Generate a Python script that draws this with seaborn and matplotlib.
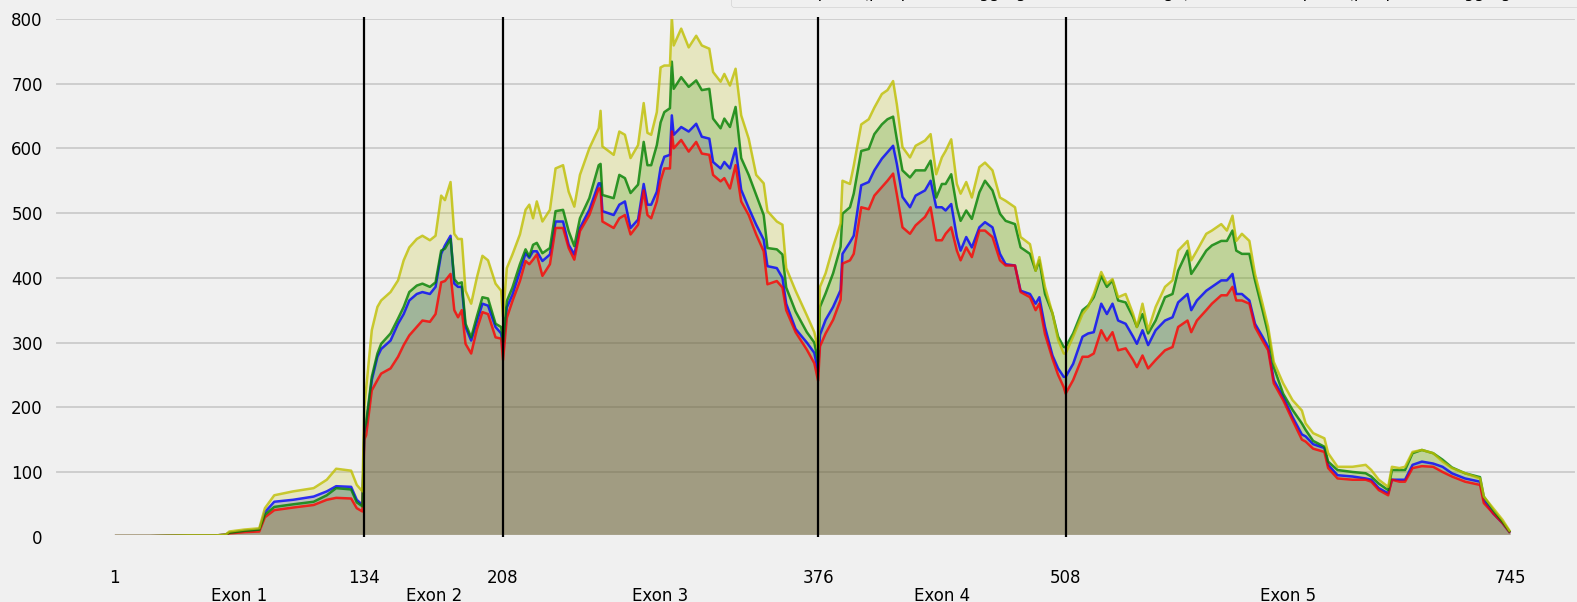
import matplotlib
matplotlib.use('Agg')
import matplotlib.pyplot as plt
import seaborn as sns
import pandas as pd

# positions along the transcript
position = [
  1, 20, 40, 55, 60, 62, 70, 78, 81, 86, 96, 107, 114, 119, 127, 130, 133,
  134, 135, 138, 141, 143, 148, 152, 155, 158, 162, 165, 169, 172, 175, 177, 180,
  182, 184, 186, 188, 191, 194, 197, 200, 204, 207,
  208, 210, 213, 217, 220, 222, 224, 226, 229, 233, 236, 240, 243, 246, 249, 254,
  259, 260, 261, 267, 270, 273, 276, 280, 283, 285, 287, 290, 292, 294, 297, 298,
  299, 303, 307, 311, 314, 318, 320, 324, 326, 329, 332, 335, 339, 343, 347, 349,
  354, 357, 359, 364, 370, 374, 376,
  377, 380, 384, 388, 389, 393, 395, 399, 403, 406, 410, 413, 416, 418, 421, 425,
  428, 433, 436, 439, 442, 444, 447, 450, 452, 455, 458, 462, 465, 469, 473, 476,
  481, 484, 489, 492, 494, 497, 501, 504, 507,
  508, 512, 517, 520, 523, 527, 530, 533, 536, 540, 544, 546, 549, 552, 556, 561,
  565, 568, 573, 575, 578, 583, 586, 591, 594, 597, 599, 602, 606, 609, 613, 616,
  619, 624, 629, 634, 636, 640, 646, 648, 653, 661, 668, 671, 675, 680, 682, 686,
  689, 693, 698, 704, 709, 714, 721, 729, 731, 736, 741, 745,
]

cov_yellow = [
  1, 1, 2, 2, 3, 8, 11, 13, 44, 64, 70, 75, 88, 105, 102, 80, 70,
  200, 229, 319, 355, 365, 378, 396, 427, 447, 460, 465, 458, 465, 527, 520, 548,
  468, 460, 460, 380, 360, 400, 434, 427, 391, 380,
  340, 415, 436, 467, 505, 513, 492, 518, 487, 505, 569, 574, 533, 510, 559, 600,
  631, 658, 603, 590, 626, 621, 585, 605, 670, 624, 621, 656, 725, 728, 728, 803,
  759, 785, 756, 774, 759, 754, 718, 703, 715, 697, 723, 651, 615, 559, 546, 503,
  487, 482, 415, 380, 342, 316, 289,
  386, 407, 448, 484, 550, 545, 573, 637, 645, 663, 684, 690, 704, 668, 602, 586,
  604, 612, 622, 560, 586, 596, 614, 545, 530, 548, 524, 571, 578, 566, 524, 519,
  509, 463, 452, 411, 432, 386, 345, 304, 283,
  283, 309, 344, 355, 375, 409, 391, 398, 370, 375, 344, 324, 360, 319, 355, 386,
  396, 442, 457, 427, 442, 468, 473, 483, 473, 496, 457, 468, 457, 406, 360, 324,
  270, 237, 211, 195, 175, 160, 152, 129, 108, 108, 111, 103, 88, 77, 108, 106,
  108, 131, 134, 129, 116, 106, 98, 90, 62, 44, 26, 8,
]

cov_green = [
  1, 1, 2, 2, 3, 6, 9, 11, 34, 46, 50, 54, 64, 75, 73, 53, 47,
  165, 177, 247, 283, 298, 314, 337, 355, 378, 388, 391, 386, 393, 442, 445, 460,
  398, 391, 393, 329, 308, 340, 370, 368, 329, 324,
  300, 364, 385, 421, 444, 433, 451, 454, 438, 446, 503, 505, 472, 449, 492, 523,
  574, 576, 528, 523, 559, 554, 531, 544, 610, 574, 574, 605, 640, 656, 662, 734,
  692, 710, 695, 705, 690, 692, 646, 631, 646, 633, 664, 585, 559, 528, 497, 446,
  444, 436, 385, 348, 316, 300, 270,
  355, 376, 407, 448, 499, 509, 530, 596, 599, 622, 637, 645, 649, 614, 566, 555,
  566, 566, 581, 524, 545, 545, 560, 509, 488, 504, 491, 532, 550, 535, 499, 488,
  483, 447, 437, 411, 427, 375, 345, 309, 293,
  293, 314, 350, 357, 370, 403, 386, 396, 365, 362, 339, 324, 344, 314, 334, 370,
  375, 411, 442, 406, 419, 442, 450, 457, 457, 473, 442, 437, 437, 396, 350, 314,
  262, 221, 196, 175, 165, 148, 139, 116, 103, 100, 98, 93, 82, 72, 103, 103,
  103, 129, 134, 129, 119, 107, 98, 92, 62, 41, 23, 7,
]

cov_blue = [
  1, 1, 2, 2, 3, 6, 9, 11, 38, 54, 57, 62, 70, 78, 77, 57, 49,
  160, 172, 242, 278, 290, 303, 329, 344, 365, 375, 378, 375, 386, 437, 450, 465,
  391, 386, 386, 324, 303, 332, 360, 357, 324, 314,
  289, 354, 374, 410, 438, 431, 441, 441, 426, 436, 487, 487, 451, 436, 477, 505,
  546, 546, 503, 497, 513, 518, 477, 490, 545, 513, 513, 533, 570, 587, 590, 651,
  621, 633, 626, 638, 618, 615, 579, 569, 579, 569, 600, 536, 508, 482, 459, 418,
  415, 400, 360, 321, 300, 284, 255,
  312, 335, 355, 381, 437, 455, 465, 543, 548, 566, 584, 594, 604, 576, 525, 509,
  527, 535, 550, 509, 509, 504, 514, 463, 442, 463, 447, 478, 486, 478, 437, 421,
  419, 380, 375, 360, 370, 324, 280, 260, 247,
  247, 267, 309, 314, 316, 360, 344, 360, 334, 329, 309, 298, 319, 296, 319, 334,
  339, 362, 375, 350, 365, 380, 386, 396, 396, 406, 375, 375, 365, 329, 309, 293,
  242, 216, 185, 158, 155, 143, 137, 111, 95, 93, 90, 88, 75, 67, 88, 88,
  88, 111, 116, 113, 108, 98, 90, 85, 57, 36, 21, 6,
]

cov_red = [
  1, 1, 2, 2, 3, 5, 7, 8, 30, 41, 45, 49, 57, 60, 59, 44, 39,
  150, 157, 226, 242, 252, 260, 278, 296, 311, 324, 334, 332, 344, 393, 395, 406,
  350, 339, 350, 298, 283, 320, 347, 344, 308, 306,
  273, 338, 364, 395, 426, 421, 428, 436, 403, 421, 477, 477, 446, 428, 472, 497,
  538, 538, 487, 477, 492, 497, 467, 482, 535, 497, 492, 518, 550, 569, 569, 626,
  600, 613, 595, 610, 592, 590, 559, 549, 554, 538, 574, 518, 497, 467, 441, 390,
  395, 385, 350, 316, 289, 268, 241,
  294, 314, 335, 366, 422, 427, 437, 509, 506, 527, 540, 550, 561, 529, 478, 468,
  481, 494, 509, 458, 458, 468, 478, 442, 427, 447, 432, 473, 473, 463, 427, 419,
  419, 378, 370, 350, 360, 313, 275, 250, 231,
  221, 242, 278, 278, 283, 319, 303, 316, 288, 291, 273, 262, 280, 260, 273, 288,
  293, 324, 334, 316, 334, 350, 360, 373, 373, 386, 365, 365, 360, 324, 303, 288,
  237, 211, 180, 150, 147, 136, 131, 106, 90, 88, 88, 85, 72, 64, 88, 85,
  85, 106, 109, 108, 100, 93, 85, 80, 52, 36, 21, 6,
]

samples = ['yellow', 'green', 'blue', 'red']
sample_colors = ['y', 'g', 'b', 'r']
legend_labels = [
  'Sample 1 (per-position aggregated read coverage)',
  'Sample 2 (per-position aggregated read coverage)',
  'Sample 3 (per-position aggregated read coverage)',
  'Sample 4 (per-position aggregated read coverage)',
]

exon_bounds = [1, 134, 208, 376, 508, 745]
exon_names = ['Exon 1', 'Exon 2', 'Exon 3', 'Exon 4', 'Exon 5']


def build_frame():
  series = [cov_yellow, cov_green, cov_blue, cov_red]
  frames = []
  for name, vals in zip(samples, series):
    frames.append(pd.DataFrame({'position': position, 'coverage': vals, 'sample': name}))
  return pd.concat(frames, ignore_index=True)


plt.style.use('fivethirtyeight')
fig = plt.figure(figsize=(15.77, 6.02), dpi=100)
ax = fig.add_axes([0.0342, 0.1085, 0.9658, 0.8633])

df = build_frame()
palette = dict(zip(samples, sample_colors))

# fills stacked red first, yellow last (gives the khaki overlap)
for name, col in zip(samples[::-1], sample_colors[::-1]):
  sub = df[df['sample'] == name]
  ax.fill_between(sub['position'], 0, sub['coverage'], color=col, alpha=0.2, linewidth=0)

sns.lineplot(
  data=df, x='position', y='coverage', hue='sample', palette=palette,
  hue_order=['blue', 'red', 'green', 'yellow'],
  estimator=None, linewidth=1.8, alpha=0.8, legend=False, ax=ax,
)

for b in exon_bounds[1:-1]:
  ax.axvline(b, color='black', linewidth=1.6, zorder=5)

ax.set_xlim(-31.5, 780.7)
ax.set_ylim(0, 803)
ax.set_yticks(range(0, 801, 100))
ax.set_xticks(exon_bounds)
ax.set_xticklabels([str(b) for b in exon_bounds])
mids = [(exon_bounds[i] + exon_bounds[i + 1]) / 2 for i in range(len(exon_names))]
ax.set_xticks(mids, minor=True)
ax.set_xticklabels(exon_names, minor=True)
ax.tick_params(axis='x', which='major', pad=23, labelsize=12, length=0)
ax.tick_params(axis='x', which='minor', pad=36, labelsize=12, length=0)
ax.tick_params(axis='y', labelsize=12, length=0, pad=8)
ax.grid(axis='x', visible=False)
ax.grid(axis='y', color='#cbcbcb', linewidth=1.3)
ax.set_xlabel('')
ax.set_ylabel('')

handles = [plt.Line2D([], [], color=c, lw=1.6, alpha=0.8) for c in sample_colors]
fig.legend(
  handles, legend_labels, loc='lower left', ncol=4, fontsize=11.5,
  bbox_to_anchor=(0.4635, 0.988), bbox_transform=fig.transFigure, borderaxespad=0,
)

plt.savefig('out.png', dpi=100)
